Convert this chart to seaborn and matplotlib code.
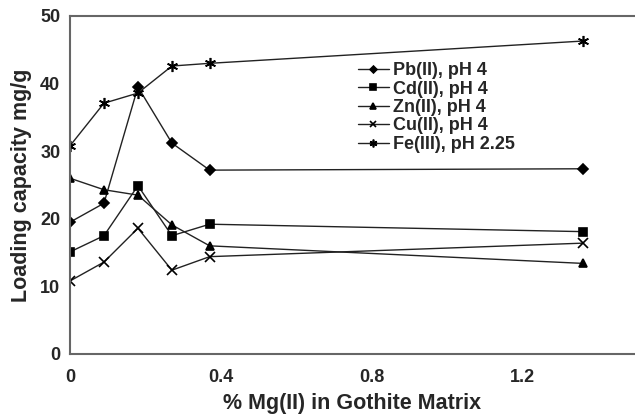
import matplotlib
matplotlib.use("Agg")
import matplotlib.pyplot as plt
import seaborn as sns
import pandas as pd

x_mg = [0, 0.09, 0.18, 0.27, 0.37, 1.36]
pb = [19.5, 22.3, 39.5, 31.2, 27.2, 27.4]
cd = [15.1, 17.5, 24.9, 17.5, 19.2, 18.1]
zn = [26.0, 24.3, 23.5, 19.1, 16.0, 13.4]
cu = [10.8, 13.6, 18.6, 12.4, 14.4, 16.4]
fe = [30.8, 37.1, 38.6, 42.6, 43.0, 46.3]
series_names = ["Pb(II), pH 4", "Cd(II), pH 4", "Zn(II), pH 4", "Cu(II), pH 4", "Fe(III), pH 2.25"]
markers = ["D", "s", "^", "x", (6, 2, 0)]
msizes = [5, 6, 6, 7, 8]

rows = []
for name, vals in zip(series_names, [pb, cd, zn, cu, fe]):
    for xv, yv in zip(x_mg, vals):
        rows.append({"x": xv, "y": yv, "series": name})
df = pd.DataFrame(rows)

sns.set_style("white")
plt.rcParams["font.family"] = ["Liberation Sans", "DejaVu Sans"]
plt.rcParams["font.weight"] = "bold"

fig = plt.figure(figsize=(6.35, 4.18), dpi=100)
ax = fig.add_axes([70 / 635, 1 - 354 / 418, 565 / 635, 338 / 418])

for name, mk, ms in zip(series_names, markers, msizes):
    sub = df[df["series"] == name]
    sns.lineplot(data=sub, x="x", y="y", ax=ax, color="#222222", linewidth=1.0,
                 marker=mk, markersize=ms, markeredgecolor="black", markerfacecolor="black",
                 markeredgewidth=1.2, label=name, legend=False)

ax.set_xlim(0, 1.497)
ax.set_ylim(0, 50)
ax.set_xticks([0, 0.4, 0.8, 1.2])
ax.set_xticklabels(["0", "0.4", "0.8", "1.2"])
ax.set_yticks([0, 10, 20, 30, 40, 50])
for side in ["left", "bottom", "top"]:
    ax.spines[side].set_color("#666666")
    ax.spines[side].set_linewidth(1.5)
ax.spines["right"].set_visible(False)
ax.tick_params(axis="both", direction="inout", length=6, width=1.2, color="#666666",
               labelsize=13)
ax.tick_params(axis="x", pad=8)
ax.tick_params(axis="y", pad=4)
for lab in ax.get_xticklabels() + ax.get_yticklabels():
    lab.set_fontweight("bold")
ax.set_xlabel("% Mg(II) in Gothite Matrix", fontsize=15.5, fontweight="bold", labelpad=5)
ax.set_ylabel("Loading capacity mg/g", fontsize=15.5, fontweight="bold", labelpad=6)

leg = ax.legend(loc="upper left", bbox_to_anchor=(0.497, 0.885), frameon=False,
                fontsize=13, handlelength=1.7, handletextpad=0.25, labelspacing=0.08,
                borderaxespad=0, markerscale=0.7)
for t in leg.get_texts():
    t.set_fontweight("bold")

fig.savefig("out.png", dpi=100)
